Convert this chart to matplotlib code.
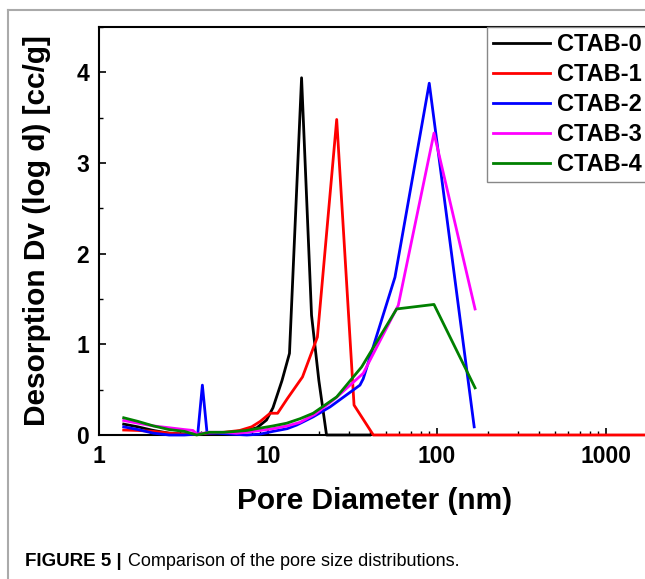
import matplotlib
matplotlib.use("Agg")
import matplotlib.pyplot as plt
from matplotlib.lines import Line2D
from matplotlib.ticker import FixedLocator, FixedFormatter, MultipleLocator, LogLocator, NullFormatter

plt.rcParams['font.family'] = ['Liberation Sans', 'DejaVu Sans']

# pore diameter (nm) and dV/dlogD for each sample
ctab0_x = [1.4, 1.7, 2.1, 2.6, 3.2, 3.8, 4.5, 5.5, 6.5, 7.5, 8.6, 9.8, 10.7, 12.1, 13.4, 15.8, 18.1, 20.0, 22.2, 30.0, 40.0]
ctab0_y = [0.12, 0.09, 0.05, 0.02, 0.01, 0.01, 0.02, 0.02, 0.03, 0.05, 0.08, 0.165, 0.30, 0.60, 0.90, 3.94, 1.32, 0.60, 0.0, 0.0, 0.0]

ctab1_x = [1.4, 1.7, 2.1, 2.6, 3.2, 3.8, 4.5, 5.5, 6.8, 8.0, 9.0, 10.3, 11.4, 13.0, 16.0, 19.6, 25.5, 32.3, 42.0, 60.0, 100.0, 200.0, 500.0, 1000.0, 2500.0]
ctab1_y = [0.055, 0.05, 0.04, 0.02, 0.01, 0.01, 0.02, 0.03, 0.05, 0.09, 0.15, 0.24, 0.24, 0.40, 0.64, 1.08, 3.48, 0.33, 0.0, 0.0, 0.0, 0.0, 0.0, 0.0, 0.0]

ctab2_x = [1.4, 1.7, 2.1, 2.6, 3.2, 3.84, 4.09, 4.36, 5.0, 6.0, 7.5, 9.0, 10.7, 13.0, 14.8, 18.5, 23.3, 35.0, 36.6, 56.4, 90.0, 166.0]
ctab2_y = [0.09, 0.06, 0.02, 0.0, 0.0, 0.01, 0.55, 0.02, 0.02, 0.01, 0.0, 0.01, 0.04, 0.07, 0.11, 0.20, 0.31, 0.55, 0.62, 1.74, 3.88, 0.09]

ctab3_x = [1.4, 1.7, 2.1, 2.6, 3.2, 3.6, 3.8, 4.5, 5.5, 6.5, 7.5, 9.0, 10.7, 13.0, 15.5, 19.0, 24.9, 36.6, 59.0, 96.0, 168.0]
ctab3_y = [0.16, 0.13, 0.10, 0.08, 0.06, 0.05, 0.01, 0.03, 0.03, 0.02, 0.03, 0.05, 0.07, 0.10, 0.14, 0.23, 0.40, 0.68, 1.43, 3.33, 1.39]

ctab4_x = [1.4, 1.7, 2.1, 2.6, 3.2, 3.78, 4.5, 5.5, 6.5, 7.5, 8.6, 10.7, 12.9, 15.5, 18.5, 25.5, 35.8, 57.7, 96.0, 168.0]
ctab4_y = [0.19, 0.15, 0.10, 0.06, 0.04, 0.0, 0.03, 0.03, 0.04, 0.05, 0.07, 0.10, 0.13, 0.18, 0.24, 0.42, 0.75, 1.39, 1.44, 0.52]

labels = ['CTAB-0', 'CTAB-1', 'CTAB-2', 'CTAB-3', 'CTAB-4']
colors = ['black', 'red', 'blue', 'magenta', 'green']
series = [(ctab0_x, ctab0_y), (ctab1_x, ctab1_y), (ctab2_x, ctab2_y),
          (ctab3_x, ctab3_y), (ctab4_x, ctab4_y)]

W, H = 645, 579
fig = plt.figure(figsize=(W / 100, H / 100), dpi=100)

# axes runs off the right edge like the cropped original
ax_left, ax_bottom = 99 / W, 1 - 435 / H
ax_height = 408 / H
ax_wpx = 3.477 * 169
ax = fig.add_axes([ax_left, ax_bottom, ax_wpx / W, ax_height])

for (x, y), c, lab in zip(series, colors, labels):
    ax.plot(x, y, color=c, lw=2, label=lab, zorder=3, clip_on=False)

ax.set_xscale('log')
ax.set_xlim(1, 3000)
ax.set_ylim(0, 4.5)
ax.xaxis.set_major_locator(FixedLocator([1, 10, 100, 1000]))
ax.xaxis.set_major_formatter(FixedFormatter(['1', '10', '100', '1000']))
ax.xaxis.set_minor_locator(LogLocator(base=10, subs=range(2, 10), numticks=20))
ax.xaxis.set_minor_formatter(NullFormatter())
ax.yaxis.set_major_locator(MultipleLocator(1))
ax.yaxis.set_minor_locator(MultipleLocator(0.5))

ax.tick_params(which='both', direction='in', top=False, right=False)
ax.tick_params(which='major', length=5, width=1.2, labelsize=16.5, pad=7)
ax.tick_params(which='minor', length=3, width=1.0)
for lbl in ax.get_xticklabels() + ax.get_yticklabels():
    lbl.set_fontweight('bold')
for s in ax.spines.values():
    s.set_linewidth(1.5)

ax.set_xlabel('Pore Diameter (nm)', fontsize=21.5, fontweight='bold', labelpad=14,
              x=(375 - 99) / ax_wpx)
ax.set_ylabel('Desorption Dv (log d) [cc/g]', fontsize=21.5, fontweight='bold', labelpad=18)

leg = ax.legend(loc='upper left', bbox_to_anchor=(487 / W, 1 - 27 / H),
                bbox_transform=fig.transFigure, borderaxespad=0,
                prop={'weight': 'bold', 'size': 17},
                handlelength=2.4, handletextpad=0.3, labelspacing=0.3,
                borderpad=0.25, fancybox=False, framealpha=1, edgecolor='#888888')
leg.get_frame().set_linewidth(1.0)
leg.set_zorder(5)

# page border of the figure panel
fig.add_artist(Line2D([8 / W, 8 / W], [0, 1 - 10 / H], color='#aaaaaa', lw=1.5))
fig.add_artist(Line2D([8 / W, 1], [1 - 10 / H, 1 - 10 / H], color='#aaaaaa', lw=1.5))

fig.text(25 / W, 1 - 561 / H, 'FIGURE 5 |', fontsize=13.5, fontweight='bold', va='center', ha='left')
fig.text(128 / W, 1 - 561 / H, 'Comparison of the pore size distributions.', fontsize=13,
         va='center', ha='left')

fig.savefig('out.png', dpi=100)
